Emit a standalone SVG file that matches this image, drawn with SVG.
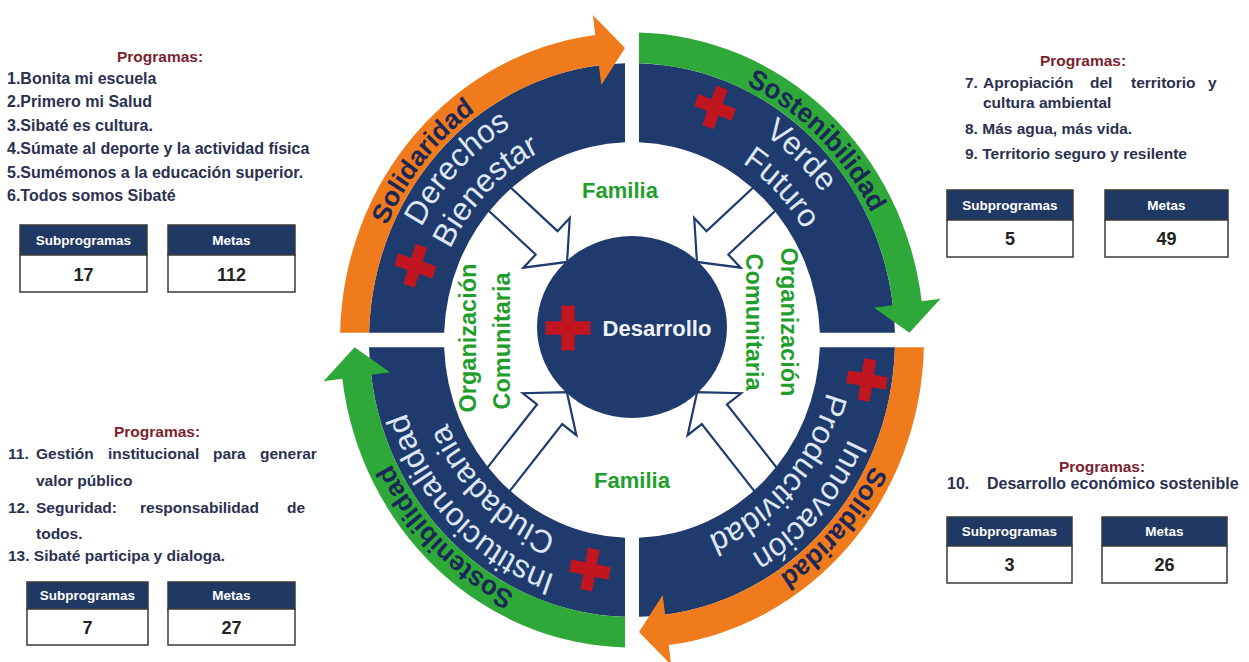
<svg xmlns="http://www.w3.org/2000/svg" xmlns:xlink="http://www.w3.org/1999/xlink" width="1249" height="662" viewBox="0 0 1249 662">
<defs>
<style>
.navy{fill:#1f3a6d}
.org{fill:#f07b1c}
.grn{fill:#2fa83a}
.plus{fill:#c0161f}
.bt{font-family:"Liberation Sans",Arial,sans-serif;font-weight:bold;font-size:26px;fill:#1b2757;text-anchor:middle}
.qt{font-family:"Liberation Sans",Arial,sans-serif;font-size:31px;fill:#dde7f5;text-anchor:middle}
.gl{font-family:"Liberation Sans",Arial,sans-serif;font-weight:bold;font-size:23.5px;fill:#1f9e2c;text-anchor:middle}
.fam{font-family:"Liberation Sans",Arial,sans-serif;font-weight:bold;font-size:22px;fill:#1f9e2c;text-anchor:middle}
.des{font-family:"Liberation Sans",Arial,sans-serif;font-weight:bold;font-size:22px;fill:#eef2f8;text-anchor:middle}
.hd{font-family:"Liberation Sans",Arial,sans-serif;font-weight:bold;font-size:15.5px;fill:#7a1f2f;text-anchor:middle}
.li{font-family:"Liberation Sans",Arial,sans-serif;font-weight:bold;font-size:16px;fill:#2a3150}
.li2{font-family:"Liberation Sans",Arial,sans-serif;font-weight:bold;font-size:15.5px;fill:#2a3150}
.bxh{fill:#1f3864;stroke:#3a3a3a;stroke-width:1.5}
.bxb{fill:#ffffff;stroke:#3a3a3a;stroke-width:1.5}
.bht{font-family:"Liberation Sans",Arial,sans-serif;font-weight:bold;font-size:13.5px;fill:#ffffff;text-anchor:middle}
.bnt{font-family:"Liberation Sans",Arial,sans-serif;font-weight:bold;font-size:18px;fill:#222222;text-anchor:middle}
.harrow{fill:#ffffff;stroke:#1f3a6d;stroke-width:2.2;stroke-linejoin:miter}
</style>
<path id="quad" d="M -262.91 -7 A 263 263 0 0 1 -7 -262.91 L -7 -187.87 A 188 188 0 0 0 -187.87 -7 Z"/>
<path id="band" d="M -291.92 -7 A 292 292 0 0 1 -36.75 -289.68 L -39.14 -308.53 L -7 -277.41 L -30.71 -242.06 L -33.10 -260.91 A 263 263 0 0 0 -262.91 -7 Z"/>
<path id="arcBand" d="M -268 0 A 268 268 0 0 1 0 -268" fill="none"/>
<path id="arcOut" d="M -236 0 A 236 236 0 0 1 0 -236" fill="none"/>
<path id="arcIn" d="M -201 0 A 201 201 0 0 1 0 -201" fill="none"/>
<path id="plus" d="M -6 -20 H 6 V -6 H 20 V 6 H 6 V 20 H -6 V 6 H -20 V -6 H -6 Z"/>
</defs>

<rect width="1249" height="662" fill="#ffffff"/>

<g id="connectors">
<polygon class="harrow" points="0,-16 76,-16 76,-34 104,0 76,34 76,16 0,16" transform="translate(491,191) rotate(43)"/>
<polygon class="harrow" points="0,-16 76,-16 76,-34 104,0 76,34 76,16 0,16" transform="translate(773,191) rotate(137)"/>
<polygon class="harrow" points="0,-16 95,-16 95,-34 123,0 95,34 95,16 0,16" transform="translate(491,489) rotate(-51.9)"/>
<polygon class="harrow" points="0,-16 95,-16 95,-34 123,0 95,34 95,16 0,16" transform="translate(773,489) rotate(-128.1)"/>
</g>

<g id="desarrollo">
<ellipse cx="632" cy="327" rx="95" ry="91" fill="#1f3a6d"/>
<use href="#plus" class="plus" transform="translate(568,328) scale(1.12)"/>
<text class="des" x="657" y="336">Desarrollo</text>
</g>

<g id="ring" transform="translate(632,340) scale(1,1.053)">
<g id="q-derechos-bienestar">
<use href="#quad" class="navy"/>
<use href="#band" class="org"/>
<text class="bt" transform="rotate(-6)"><textPath href="#arcBand" startOffset="50%">Solidaridad</textPath></text>
<text class="qt" transform="rotate(-2)"><textPath href="#arcOut" startOffset="50%">Derechos</textPath></text>
<text class="qt" transform="rotate(-1)"><textPath href="#arcIn" startOffset="50%">Bienestar</textPath></text>
<use href="#plus" class="plus" transform="translate(-216.8,-70.4) rotate(-72)"/>
</g>
<g id="q-verde-futuro" transform="rotate(90)">
<use href="#quad" class="navy"/>
<use href="#band" class="grn"/>
<text class="bt" transform="rotate(-0.7)"><textPath href="#arcBand" startOffset="50%">Sostenibilidad</textPath></text>
<text class="qt" transform="rotate(-1)"><textPath href="#arcOut" startOffset="50%">Verde</textPath></text>
<text class="qt" transform="rotate(1)"><textPath href="#arcIn" startOffset="50%">Futuro</textPath></text>
<use href="#plus" class="plus" transform="translate(-220.9,-83) rotate(-69.4)"/>
</g>
<g id="q-innovacion-productividad" transform="rotate(180)">
<use href="#quad" class="navy"/>
<use href="#band" class="org"/>
<text class="bt" transform="rotate(-3.5)"><textPath href="#arcBand" startOffset="50%">Solidaridad</textPath></text>
<text class="qt" transform="rotate(-3.5)"><textPath href="#arcOut" startOffset="50%">Innovación</textPath></text>
<text class="qt" transform="rotate(-4)"><textPath href="#arcIn" startOffset="50%">Productividad</textPath></text>
<use href="#plus" class="plus" transform="translate(-234.9,-38) rotate(-80.8)"/>
</g>
<g id="q-institucionalidad-ciudadania" transform="rotate(270)">
<use href="#quad" class="navy"/>
<use href="#band" class="grn"/>
<text class="bt"><textPath href="#arcBand" startOffset="50%">Sostenibilidad</textPath></text>
<text class="qt" transform="rotate(1)"><textPath href="#arcOut" startOffset="50%">Institucionalidad</textPath></text>
<text class="qt" transform="rotate(-0.5)"><textPath href="#arcIn" startOffset="50%">Ciudadania</textPath></text>
<use href="#plus" class="plus" transform="translate(-218,-42) rotate(-79.1)"/>
</g>
</g>

<g id="familia-top"><text class="fam" x="620" y="198">Familia</text></g>
<g id="familia-bottom"><text class="fam" x="632" y="488">Familia</text></g>
<g id="organizacion-left">
<text class="gl" transform="translate(476,338) rotate(-90)">Organización</text>
<text class="gl" transform="translate(510,341) rotate(-90)">Comunitaria</text>
</g>
<g id="organizacion-right">
<text class="gl" transform="translate(781,322) rotate(90)">Organización</text>
<text class="gl" transform="translate(746,322) rotate(90)">Comunitaria</text>
</g>

<g id="panel-top-left">
<text class="hd" x="160" y="62">Programas:</text>
<text class="li" x="7" y="84">1.Bonita mi escuela</text>
<text class="li" x="7" y="107">2.Primero mi Salud</text>
<text class="li" x="7" y="131">3.Sibaté es cultura.</text>
<text class="li" x="7" y="154">4.Súmate al deporte y la actividad física</text>
<text class="li" x="7" y="178">5.Sumémonos a la educación superior.</text>
<text class="li" x="7" y="201">6.Todos somos Sibaté</text>
<rect class="bxh" x="20" y="225" width="127" height="30"/>
<rect class="bxb" x="20" y="255" width="127" height="37"/>
<text class="bht" x="83.5" y="245">Subprogramas</text>
<text class="bnt" x="83.5" y="281">17</text>
<rect class="bxh" x="168" y="225" width="127" height="30"/>
<rect class="bxb" x="168" y="255" width="127" height="37"/>
<text class="bht" x="231.5" y="245">Metas</text>
<text class="bnt" x="231.5" y="281">112</text>
</g>

<g id="panel-top-right">
<text class="hd" x="1083" y="66">Programas:</text>
<text class="li2" y="88"><tspan x="965">7.</tspan><tspan x="983">Apropiación</tspan><tspan x="1090">del</tspan><tspan x="1131">territorio</tspan><tspan x="1208">y</tspan></text>
<text class="li2" x="983" y="108">cultura ambiental</text>
<text class="li2" x="965" y="134">8. Más agua, más vida.</text>
<text class="li2" x="965" y="159">9. Territorio seguro y resilente</text>
<rect class="bxh" x="947" y="190" width="126" height="30"/>
<rect class="bxb" x="947" y="220" width="126" height="37"/>
<text class="bht" x="1010" y="210">Subprogramas</text>
<text class="bnt" x="1010" y="245">5</text>
<rect class="bxh" x="1105" y="190" width="123" height="30"/>
<rect class="bxb" x="1105" y="220" width="123" height="37"/>
<text class="bht" x="1166.5" y="210">Metas</text>
<text class="bnt" x="1166.5" y="245">49</text>
</g>

<g id="panel-bottom-left">
<text class="hd" x="157" y="437">Programas:</text>
<text class="li2" y="459"><tspan x="8">11.</tspan><tspan x="36">Gestión</tspan><tspan x="108">institucional</tspan><tspan x="213">para</tspan><tspan x="260">generar</tspan></text>
<text class="li2" x="36" y="486">valor público</text>
<text class="li2" y="513"><tspan x="8">12.</tspan><tspan x="36">Seguridad:</tspan><tspan x="140">responsabilidad</tspan><tspan x="287">de</tspan></text>
<text class="li2" x="36" y="539">todos.</text>
<text class="li2" x="8" y="561">13. Sibaté participa y dialoga.</text>
<rect class="bxh" x="27" y="582" width="121" height="27"/>
<rect class="bxb" x="27" y="609" width="121" height="36"/>
<text class="bht" x="87.5" y="600">Subprogramas</text>
<text class="bnt" x="87.5" y="634">7</text>
<rect class="bxh" x="168" y="582" width="127" height="27"/>
<rect class="bxb" x="168" y="609" width="127" height="36"/>
<text class="bht" x="231.5" y="600">Metas</text>
<text class="bnt" x="231.5" y="634">27</text>
</g>

<g id="panel-bottom-right">
<text class="hd" x="1102" y="472">Programas:</text>
<text class="li" y="489"><tspan x="947">10.</tspan><tspan x="987">Desarrollo económico sostenible</tspan></text>
<rect class="bxh" x="947" y="517" width="125" height="29"/>
<rect class="bxb" x="947" y="546" width="125" height="37"/>
<text class="bht" x="1009.5" y="536">Subprogramas</text>
<text class="bnt" x="1009.5" y="571">3</text>
<rect class="bxh" x="1102" y="517" width="125" height="29"/>
<rect class="bxb" x="1102" y="546" width="125" height="37"/>
<text class="bht" x="1164.5" y="536">Metas</text>
<text class="bnt" x="1164.5" y="571">26</text>
</g>
</svg>
